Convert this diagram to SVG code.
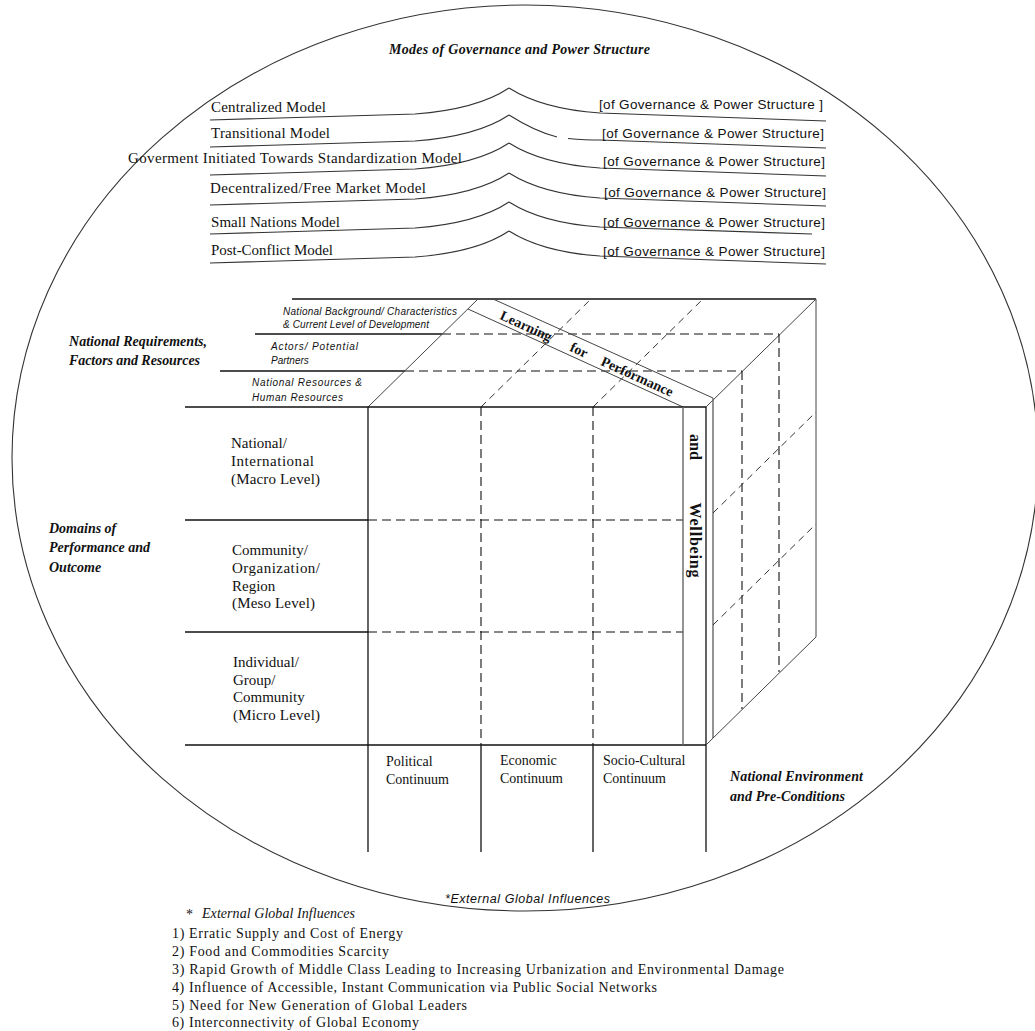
<svg xmlns="http://www.w3.org/2000/svg" width="1035" height="1031" viewBox="0 0 1035 1031">
<style>
.ln{stroke:#111;stroke-width:1.3;fill:none}
.th{stroke:#444;stroke-width:1;fill:none}
.gr{stroke:#666;stroke-width:1.4;fill:none}
.ds{stroke:#111;stroke-width:1.1;fill:none;stroke-dasharray:9 5}
.dd{stroke:#333;stroke-width:1;fill:none;stroke-dasharray:7 5}
.cv{stroke:#333;stroke-width:1.1;fill:none}
.t{font-family:"Liberation Serif",serif;font-size:15px;fill:#111}
.tl{font-family:"Liberation Serif",serif;font-size:14px;fill:#111}
.s{font-family:"Liberation Sans",sans-serif;font-size:13.5px;fill:#111}
.hi{font-family:"Liberation Serif",serif;font-size:14px;font-style:italic;font-weight:bold;fill:#111}
.si{font-family:"Liberation Sans",sans-serif;font-size:10px;font-style:italic;fill:#111}
.bi{font-family:"Liberation Sans",sans-serif;font-size:12.5px;font-style:italic;fill:#111}
.sb{font-family:"Liberation Serif",serif;font-size:14px;font-weight:bold;fill:#111}
.wb{font-family:"Liberation Serif",serif;font-size:16px;font-weight:bold;fill:#111}
</style>
<rect width="1035" height="1031" fill="#fff"/>
<g id="frame">
<ellipse cx="525" cy="458" rx="513" ry="453" fill="none" stroke="#333" stroke-width="1.1"/>
</g>
<g id="title"><text class="hi" x="389" y="54" textLength="261">Modes of Governance and Power Structure</text></g>
<g id="governance-connectors">
<path class="cv" d="M210,120 L415,114 C455,111 488,102 509,88"/>
<path class="cv" d="M509,88 C528,100 555,110 600,113 L826,121"/>
<path class="cv" d="M210,147 L415,141 C455,138 488,129 509,115"/>
<path class="cv" d="M509,115 C528,127 545,134 557,137 M568,138.5 C580,139.5 590,140 600,140 L826,148"/>
<path class="cv" d="M210,175 L415,169 C455,166 488,157 509,143"/>
<path class="cv" d="M509,143 C528,155 555,165 600,168 L826,176"/>
<path class="cv" d="M210,205 L415,199 C455,196 488,187 509,173"/>
<path class="cv" d="M509,173 C528,185 555,195 600,198 L826,206"/>
<path class="cv" d="M210,234 L415,228 C455,225 488,216 509,202"/>
<path class="cv" d="M509,202 C528,214 555,224 600,227 L812,234"/>
<path class="cv" d="M210,263 L415,257 C455,254 488,245 509,231"/>
<path class="cv" d="M509,231 C528,243 555,253 600,256 L826,264"/>
</g>
<g id="mode-centralized"><text class="t" x="211" y="112" textLength="115">Centralized Model</text><text class="s" x="599" y="109" textLength="224">[of Governance &amp; Power Structure ]</text></g>
<g id="mode-transitional"><text class="t" x="211" y="138" textLength="119">Transitional Model</text><text class="s" x="602" y="138" textLength="222">[of Governance &amp; Power Structure]</text></g>
<g id="mode-standardization"><text class="t" x="128" y="163" textLength="334">Goverment Initiated Towards Standardization Model</text><text class="s" x="603" y="166" textLength="222">[of Governance &amp; Power Structure]</text></g>
<g id="mode-decentralized"><text class="t" x="210" y="193" textLength="216">Decentralized/Free Market Model</text><text class="s" x="604" y="197" textLength="222">[of Governance &amp; Power Structure]</text></g>
<g id="mode-small-nations"><text class="t" x="211" y="227" textLength="129">Small Nations Model</text><text class="s" x="603" y="227" textLength="222">[of Governance &amp; Power Structure]</text></g>
<g id="mode-post-conflict"><text class="t" x="211" y="255" textLength="122">Post-Conflict Model</text><text class="s" x="603" y="256" textLength="222">[of Governance &amp; Power Structure]</text></g>

<g id="cube-lines">
<line class="ln" x1="292" y1="299" x2="816" y2="299"/>
<line class="ln" x1="255" y1="334" x2="442" y2="334"/>
<line class="ln" x1="220" y1="371" x2="405" y2="371"/>
<line class="ds" x1="442" y1="334" x2="779" y2="334"/>
<line class="ds" x1="405" y1="371" x2="742" y2="371"/>
<line class="th" x1="368" y1="407" x2="478" y2="299"/>
<line class="th" x1="706" y1="407" x2="816" y2="299"/>
<line class="dd" x1="481" y1="407" x2="591" y2="299"/>
<line class="dd" x1="593" y1="407" x2="703" y2="299"/>
<line class="th" x1="468" y1="309" x2="683" y2="407"/>
<line class="th" x1="493" y1="299" x2="713" y2="398"/>
<line class="ln" x1="185" y1="407" x2="706" y2="407"/>
<line class="ln" x1="185" y1="520" x2="368" y2="520"/>
<line class="ln" x1="185" y1="632" x2="368" y2="632"/>
<line class="ds" x1="368" y1="520" x2="683" y2="520"/>
<line class="ds" x1="368" y1="632" x2="683" y2="632"/>
<line class="ln" x1="185" y1="745" x2="706" y2="745"/>
<line class="ln" x1="368" y1="407" x2="368" y2="852"/>
<line class="ds" x1="481" y1="407" x2="481" y2="745"/>
<line class="ds" x1="593" y1="407" x2="593" y2="745"/>
<line class="ln" x1="481" y1="745" x2="481" y2="852"/>
<line class="ln" x1="593" y1="745" x2="593" y2="852"/>
<line class="ln" x1="706" y1="407" x2="706" y2="852"/>
<line class="gr" x1="683" y1="407" x2="683" y2="745"/>
<line class="gr" x1="713" y1="398" x2="713" y2="738"/>
<line class="th" x1="816" y1="299" x2="816" y2="637"/>
<line class="th" x1="706" y1="745" x2="816" y2="637"/>
<line class="ds" x1="742" y1="371" x2="742" y2="709"/>
<line class="ds" x1="779" y1="334" x2="779" y2="672"/>
<line class="dd" x1="713" y1="513" x2="816" y2="412"/>
<line class="dd" x1="713" y1="625" x2="816" y2="524"/>
</g>

<g id="band-label">
<g transform="translate(468,309) rotate(24.5)">
<text class="sb" x="60" y="-4" text-anchor="middle">Learning</text>
<text class="sb" x="118" y="-4" text-anchor="middle">for</text>
<text class="sb" x="182" y="-4" text-anchor="middle">Performance</text>
</g>
<g transform="translate(695,447) rotate(90)"><text class="wb" x="0" y="5" text-anchor="middle">and</text></g>
<g transform="translate(695,540) rotate(90)"><text class="wb" x="0" y="5" text-anchor="middle" textLength="75">Wellbeing</text></g>
</g>

<g id="requirements-labels">
<text class="hi" x="69" y="346" textLength="138">National Requirements,</text>
<text class="hi" x="69" y="365" textLength="131">Factors and Resources</text>
<text class="si" x="283" y="315" textLength="174">National Background/ Characteristics</text>
<text class="si" x="283" y="328" textLength="146">&amp; Current Level of Development</text>
<text class="si" x="271" y="350" textLength="87">Actors/ Potential</text>
<text class="si" x="271" y="364">Partners</text>
<text class="si" x="252" y="386" textLength="110">National Resources &amp;</text>
<text class="si" x="252" y="401" textLength="91">Human Resources</text>
</g>

<g id="domains-labels">
<text class="hi" x="49" y="533">Domains of</text>
<text class="hi" x="49" y="552" textLength="101">Performance and</text>
<text class="hi" x="49" y="572">Outcome</text>
<text class="t" x="231" y="448">National/</text>
<text class="t" x="231" y="466" textLength="83">International</text>
<text class="t" x="231" y="484" textLength="89">(Macro Level)</text>
<text class="t" x="232" y="555">Community/</text>
<text class="t" x="232" y="573" textLength="88">Organization/</text>
<text class="t" x="232" y="591">Region</text>
<text class="t" x="232" y="608" textLength="83">(Meso Level)</text>
<text class="t" x="233" y="667">Individual/</text>
<text class="t" x="233" y="685">Group/</text>
<text class="t" x="233" y="702">Community</text>
<text class="t" x="233" y="720" textLength="87">(Micro Level)</text>
</g>

<g id="continuum-labels">
<text class="tl" x="386" y="766">Political</text>
<text class="tl" x="386" y="784">Continuum</text>
<text class="tl" x="500" y="765">Economic</text>
<text class="tl" x="500" y="783">Continuum</text>
<text class="tl" x="603" y="765">Socio-Cultural</text>
<text class="tl" x="603" y="783">Continuum</text>
</g>

<g id="environment-label">
<text class="hi" x="730" y="781" textLength="133">National Environment</text>
<text class="hi" x="730" y="801" textLength="115">and Pre-Conditions</text>
</g>

<g id="external-influences">
<text class="bi" x="445" y="903" textLength="165">*External Global Influences</text>
<text class="tl" x="186" y="919" font-size="11">*</text>
<text class="tl" x="202" y="918" font-style="italic" textLength="153">External Global Influences</text>
<text class="tl" x="172" y="938" textLength="231">1) Erratic Supply and Cost of Energy</text>
<text class="tl" x="172" y="956" textLength="217">2) Food and Commodities Scarcity</text>
<text class="tl" x="172" y="974" textLength="612">3) Rapid Growth of Middle Class Leading to Increasing Urbanization and Environmental Damage</text>
<text class="tl" x="172" y="992" textLength="485">4) Influence of Accessible, Instant Communication via Public Social Networks</text>
<text class="tl" x="172" y="1010" textLength="295">5) Need for New Generation of Global Leaders</text>
<text class="tl" x="172" y="1027" textLength="247">6) Interconnectivity of Global Economy</text>
</g>
</svg>
